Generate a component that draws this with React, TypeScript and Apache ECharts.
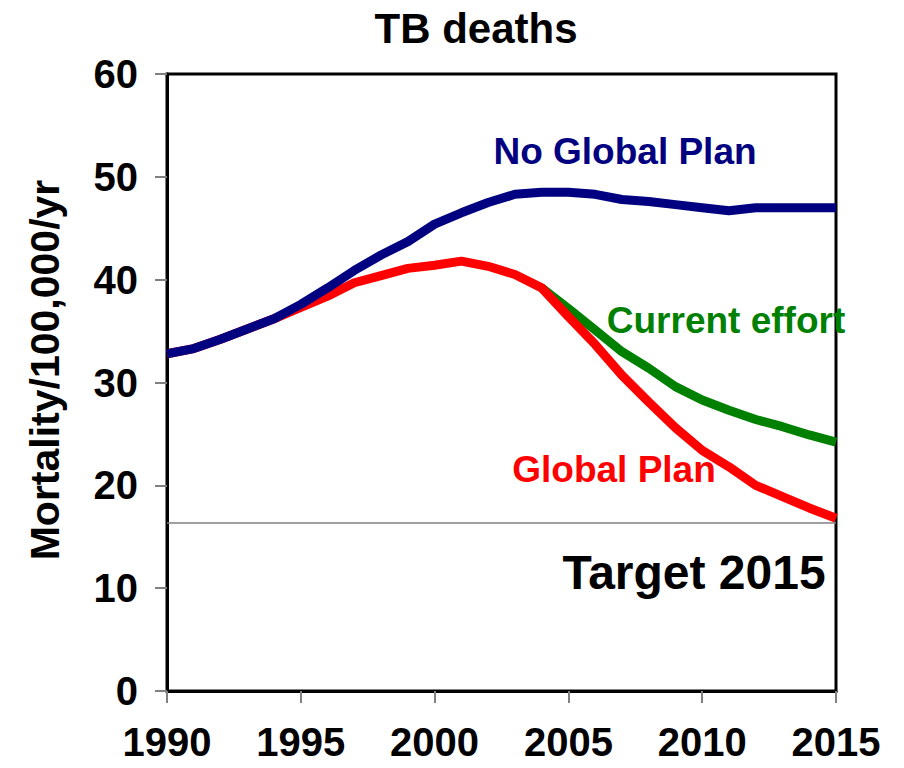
import React, { useEffect, useRef } from "react";
import * as echarts from "echarts";

const years = [1990, 1991, 1992, 1993, 1994, 1995, 1996, 1997, 1998, 1999, 2000, 2001, 2002, 2003, 2004, 2005, 2006, 2007, 2008, 2009, 2010, 2011, 2012, 2013, 2014, 2015];
const noGlobalPlan = [32.8, 33.3, 34.2, 35.2, 36.2, 37.6, 39.2, 40.9, 42.4, 43.7, 45.4, 46.5, 47.5, 48.3, 48.5, 48.5, 48.3, 47.8, 47.6, 47.3, 47.0, 46.7, 47.0, 47.0, 47.0, 47.0];
const globalPlan = [32.8, 33.3, 34.2, 35.2, 36.2, 37.3, 38.4, 39.7, 40.4, 41.1, 41.4, 41.8, 41.3, 40.5, 39.2, 36.4, 33.7, 30.7, 28.1, 25.6, 23.4, 21.8, 20.0, 18.9, 17.8, 16.8];
const currentEffortYears = [2004, 2005, 2006, 2007, 2008, 2009, 2010, 2011, 2012, 2013, 2014, 2015];
const currentEffort = [39.2, 37.2, 35.1, 33.0, 31.4, 29.6, 28.3, 27.3, 26.4, 25.7, 24.9, 24.2];
const target2015 = 16.4;
const yTicks = [0, 10, 20, 30, 40, 50, 60];
const xTicks = [1990, 1995, 2000, 2005, 2010, 2015];

const FONT = "Liberation Sans, Arial, sans-serif";

export default function App() {
  const ref = useRef<HTMLDivElement>(null);
  useEffect(() => {
    if (!ref.current) return;
    const chart = echarts.init(ref.current, undefined, { renderer: "svg" });
    const pair = (xs: number[], ys: number[]) => xs.map((x, i) => [x, ys[i]]);
    chart.setOption({
      animation: false,
      backgroundColor: "#ffffff",
      grid: {
        left: 167,
        right: 68,
        top: 74,
        bottom: 77,
        show: true,
        borderColor: "#000",
        borderWidth: 3,
        backgroundColor: "transparent",
      },
      xAxis: {
        type: "value",
        min: xTicks[0],
        max: xTicks[xTicks.length - 1],
        interval: 5,
        axisLine: { show: true, lineStyle: { color: "#000", width: 3 } },
        axisTick: { show: true, length: 12, lineStyle: { color: "#808080", width: 2 } },
        axisLabel: {
          margin: 31,
          fontFamily: FONT,
          fontWeight: "bold",
          fontSize: 40,
          color: "#000",
          formatter: (v: number) => String(v),
        },
        splitLine: { show: false },
      },
      yAxis: {
        type: "value",
        min: yTicks[0],
        max: yTicks[yTicks.length - 1],
        interval: 10,
        axisLine: { show: true, lineStyle: { color: "#000", width: 3 } },
        axisTick: { show: true, length: 12, lineStyle: { color: "#808080", width: 2 } },
        axisLabel: {
          margin: 29,
          fontFamily: FONT,
          fontWeight: "bold",
          fontSize: 40,
          color: "#000",
        },
        splitLine: { show: false },
      },
      series: [
        {
          name: "Current effort",
          type: "line",
          data: pair(currentEffortYears, currentEffort),
          showSymbol: false,
          symbol: "none",
          lineStyle: { color: "#008000", width: 9 },
          z: 2,
        },
        {
          name: "Global Plan",
          type: "line",
          data: pair(years, globalPlan),
          showSymbol: false,
          symbol: "none",
          lineStyle: { color: "#ff0000", width: 9 },
          z: 3,
          markLine: {
            silent: true,
            symbol: "none",
            label: { show: false },
            lineStyle: { color: "#808080", width: 1.5, type: "solid" },
            data: [{ yAxis: target2015 }],
          },
        },
        {
          name: "No Global Plan",
          type: "line",
          data: pair(years, noGlobalPlan),
          showSymbol: false,
          symbol: "none",
          lineStyle: { color: "#000080", width: 9 },
          z: 4,
        },
      ],
      graphic: [
        {
          type: "text",
          x: 476,
          y: 28,
          style: { text: "TB deaths", fontFamily: FONT, fontWeight: "bold", fontSize: 42, fill: "#000", align: "center", verticalAlign: "middle" },
        },
        {
          type: "text",
          x: 45,
          y: 370,
          rotation: Math.PI / 2,
          style: { text: "Mortality/100,000/yr", fontFamily: FONT, fontWeight: "bold", fontSize: 41, fill: "#000", align: "center", verticalAlign: "middle" },
        },
        {
          type: "text",
          x: 625,
          y: 151,
          style: { text: "No Global Plan", fontFamily: FONT, fontWeight: "bold", fontSize: 37, fill: "#000080", align: "center", verticalAlign: "middle" },
        },
        {
          type: "text",
          x: 726,
          y: 320,
          style: { text: "Current effort", fontFamily: FONT, fontWeight: "bold", fontSize: 37, fill: "#008000", align: "center", verticalAlign: "middle" },
        },
        {
          type: "text",
          x: 614,
          y: 469,
          style: { text: "Global Plan", fontFamily: FONT, fontWeight: "bold", fontSize: 37, fill: "#ff0000", align: "center", verticalAlign: "middle" },
        },
        {
          type: "text",
          x: 694,
          y: 572,
          style: { text: "Target 2015", fontFamily: FONT, fontWeight: "bold", fontSize: 48, fill: "#000", align: "center", verticalAlign: "middle" },
        },
      ],
    });
    return () => chart.dispose();
  }, []);
  return <div ref={ref} style={{ width: 904, height: 768, position: "absolute", left: 0, top: 0 }} />;
}
